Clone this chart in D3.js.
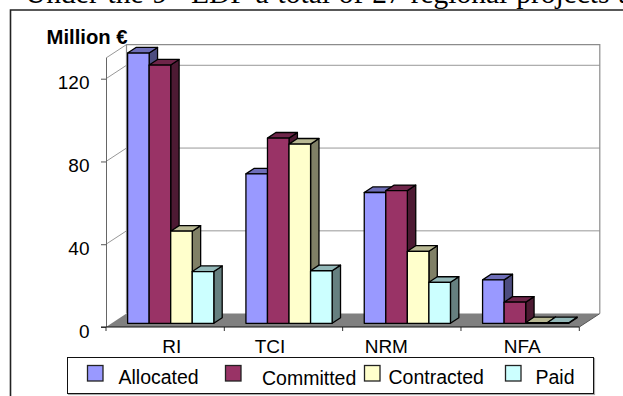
<!DOCTYPE html>
<html>
<head>
<meta charset="utf-8">
<script src="https://cdn.jsdelivr.net/npm/d3@7"></script>
<style>
  html, body { margin: 0; padding: 0; background: #fff; }
  svg { display: block; }
  text { font-family: "Liberation Sans", Arial, sans-serif; fill: #000; }
</style>
</head>
<body>
<div id="chart"></div>
<script>
// Programme funds by focal area, in million euro
const categories = ["RI", "TCI", "NRM", "NFA"];
const seriesNames = ["Allocated", "Committed", "Contracted", "Paid"];
const seriesColors = ["#9999ff", "#993366", "#ffffcc", "#ccffff"];
const allocated = [130.6, 72.2, 63.2, 21];
const committed = [124.8, 89.5, 64.1, 10.2];
const contracted = [44.5, 86.6, 34.8, 0.3];
const paid = [25, 25.4, 19.8, 0.3];
const seriesValues = [allocated, committed, contracted, paid];
const yTicks = [0, 40, 80, 120];
const yMax = 130;

const width = 623, height = 396;

// Oblique projection of the chart box
const frame = { left: 106, right: 579.3, floor: 327, top: 58 };
const wallDx = 20.5, wallDy = 13.4;     // front plane to back wall
const barShiftY = 3.7;                  // bars stand slightly behind the front edge
const barDx = 8.4, barDy = 5.6;         // depth of each bar

const svg = d3.select("#chart").append("svg")
  .attr("width", width).attr("height", height);

// Running sentence of the surrounding page, cut off by the top edge
const sentence = svg.append("text")
  .attr("x", 25).attr("y", 2.5)
  .style("font-family", '"Liberation Serif", "Times New Roman", serif')
  .style("font-size", "29.5px")
  .style("word-spacing", "1.5px");
sentence.append("tspan").text("Under the 9");
sentence.append("tspan").attr("dy", -10).style("font-size", "19px").text("th");
sentence.append("tspan").attr("dy", 10).text(" EDF a total of 27 regional projects are");

// Chart area border (open on the right and bottom)
svg.append("path")
  .attr("d", `M10.5,${height}V10H${width}`)
  .attr("fill", "none").attr("stroke", "#222").attr("stroke-width", 1.6);

const x = d3.scaleBand().domain(categories).range([frame.left, frame.right]);
const y = d3.scaleLinear().domain([0, yMax]).range([frame.floor, frame.top]);

const inner = d3.scaleBand()
  .domain(seriesNames)
  .range([21.6, 21.6 + 86.2]);

const wallColor = "#8c8c8c";

// Floor
svg.append("polygon")
  .attr("points", [
    [frame.left, frame.floor], [frame.right, frame.floor],
    [frame.right + wallDx, frame.floor - wallDy], [frame.left + wallDx, frame.floor - wallDy]
  ].join(" "))
  .attr("fill", "#808080");

// Back wall outline
svg.append("path")
  .attr("d", `M${frame.left + wallDx},${frame.floor - wallDy}V${y(yMax) - wallDy}H${frame.right + wallDx}V${frame.floor - wallDy}`)
  .attr("fill", "none").attr("stroke", wallColor).attr("stroke-width", 1.2);

// Gridlines along the side wall and across the back wall
const grid = svg.append("g").attr("fill", "none").attr("stroke", wallColor).attr("stroke-width", 0.9);
yTicks.filter(d => d > 0).concat([yMax]).forEach(d => {
  const path = d === yMax
    ? `M${frame.left},${y(d)}L${frame.left + wallDx},${y(d) - wallDy}`
    : `M${frame.left},${y(d)}L${frame.left + wallDx},${y(d) - wallDy}H${frame.right + wallDx}`;
  grid.append("path").attr("d", path);
});

// Value axis on the front plane
const yAxis = svg.append("g")
  .attr("transform", `translate(${frame.left},0)`)
  .call(d3.axisLeft(y).tickValues(yTicks).tickSize(5).tickPadding(11.5));
yAxis.select(".domain").attr("stroke", "#666").attr("stroke-width", 1).attr("d", `M0.5,${frame.floor}V${y(yMax)}`);
yAxis.selectAll(".tick line").attr("stroke", "#555");
yAxis.selectAll(".tick text").attr("dy", "0.53em").style("font-size", "19px").style("font-family", '"Liberation Sans", Arial, sans-serif');

// Category axis: ticks mark the band edges
const edges = categories.map(c => x(c)).concat([frame.right]);
svg.append("g").selectAll("line").data(edges).join("line")
  .attr("x1", d => d).attr("x2", d => d)
  .attr("y1", frame.floor).attr("y2", frame.floor + 4)
  .attr("stroke", "#333");
svg.append("line")
  .attr("x1", frame.left - 5).attr("x2", frame.right)
  .attr("y1", frame.floor).attr("y2", frame.floor)
  .attr("stroke", "#111").attr("stroke-width", 1);
svg.append("line")
  .attr("x1", frame.right).attr("x2", frame.right + wallDx)
  .attr("y1", frame.floor).attr("y2", frame.floor - wallDy)
  .attr("stroke", "#555");

// Hand-placed category label shifts from the band centre
const labelShift = [6.5, -13.5, -15.5, 2];
svg.append("g").selectAll("text").data(categories).join("text")
  .attr("x", (c, i) => x(c) + x.bandwidth() / 2 + labelShift[i])
  .attr("y", 352.7)
  .attr("text-anchor", "middle")
  .style("font-size", "19px")
  .text(c => c);

// Unit label
svg.append("text")
  .attr("x", 46.5).attr("y", 44)
  .style("font-size", "20.3px").style("font-weight", "bold")
  .text("Million €");

// 3D bars: side and top faces first, front face on top of them
const bars = svg.append("g").attr("stroke", "#000").attr("stroke-width", 1.3).attr("stroke-linejoin", "round");
const shade = (c, k) => { const r = d3.rgb(c); return d3.rgb(r.r * k, r.g * k, r.b * k).formatHex(); };

categories.forEach((cat, ci) => {
  seriesNames.forEach((name, si) => {
    const v = seriesValues[si][ci];
    const color = seriesColors[si];
    const x0 = x(cat) + inner(name), x1 = x0 + inner.bandwidth();
    const yb = y(0) - barShiftY, yt = y(v) - barShiftY;
    bars.append("polygon")
      .attr("points", [[x1, yt], [x1 + barDx, yt - barDy], [x1 + barDx, yb - barDy], [x1, yb]].join(" "))
      .attr("fill", shade(color, 0.5));
    bars.append("polygon")
      .attr("points", [[x0, yt], [x0 + barDx, yt - barDy], [x1 + barDx, yt - barDy], [x1, yt]].join(" "))
      .attr("fill", shade(color, 0.72));
    bars.append("rect")
      .attr("x", x0).attr("y", yt)
      .attr("width", x1 - x0).attr("height", Math.max(0, yb - yt))
      .attr("fill", color);
  });
});

// Legend
const legend = svg.append("g");
legend.append("rect")
  .attr("x", 68.5).attr("y", 358.5).attr("width", 526).attr("height", 36)
  .attr("fill", "none").attr("stroke", "#aaa").attr("stroke-width", 1.2);
legend.append("rect")
  .attr("x", 67.5).attr("y", 357.5).attr("width", 526).attr("height", 36)
  .attr("fill", "#fff").attr("stroke", "#111").attr("stroke-width", 1);

const swatchX = [87.5, 225.5, 364.5, 505.5];
const labelX = [118.5, 262, 388.5, 535.5];
const labelY = [384, 385, 384, 384];
seriesNames.forEach((name, i) => {
  legend.append("rect")
    .attr("x", swatchX[i]).attr("y", 365.5).attr("width", 15.5).attr("height", 15.5)
    .attr("fill", seriesColors[i]).attr("stroke", "#222").attr("stroke-width", 1.3);
  legend.append("text")
    .attr("x", labelX[i]).attr("y", labelY[i])
    .style("font-size", "19.5px")
    .text(name);
});
</script>
</body>
</html>
